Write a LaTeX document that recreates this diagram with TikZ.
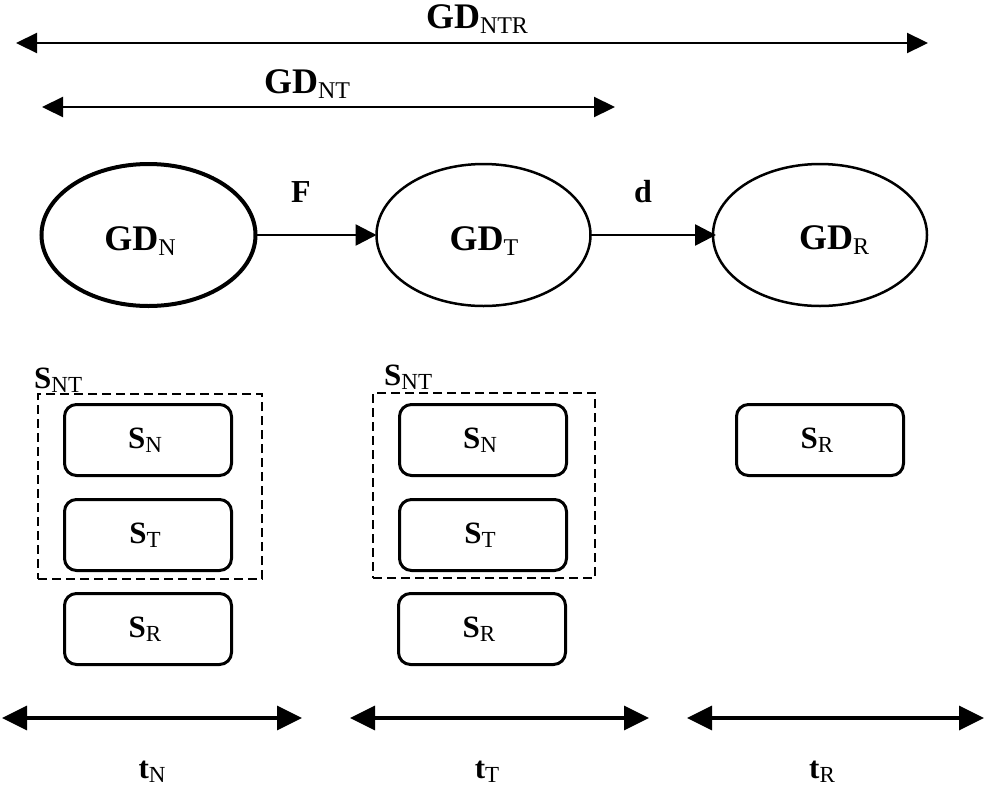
\documentclass[tikz,border=0pt]{standalone}
\usepackage{fontspec}
\setmainfont{Liberation Serif}
\usetikzlibrary{arrows.meta,shapes.geometric}

% bold symbol with a lowered, upright subscript
\newcommand\glab[2]{{\fontsize{36}{40}\selectfont\bfseries #1}{\fontsize{24}{26}\selectfont\raisebox{-5pt}{#2}}}
\newcommand\slab[2]{{\fontsize{31}{34}\selectfont\bfseries #1}{\fontsize{23}{25}\selectfont\raisebox{-4pt}{#2}}}

\tikzset{
  gdell/.style={ellipse, draw, inner sep=0pt, outer sep=0pt,
    minimum width=214pt, minimum height=142pt},
  stbox/.style={draw, line width=3pt, rounded corners=12pt, inner sep=0pt,
    minimum width=167pt, minimum height=71pt},
  grpbox/.style={draw, line width=2.2pt, dash pattern=on 9pt off 5pt,
    inner sep=0pt},
  txt/.style={inner sep=0pt, anchor=base},
  spanarrow/.style={line width=2.2pt, {Triangle[length=21pt,width=20pt]}-{Triangle[length=21pt,width=20pt]}},
  timearrow/.style={line width=3.5pt, {Triangle[length=25pt,width=24pt]}-{Triangle[length=25pt,width=24pt]}},
  flowarrow/.style={line width=2.5pt, -{Triangle[length=21pt,width=21pt]}}
}

\begin{document}
\begin{tikzpicture}[x=1pt, y=-1pt]
\useasboundingbox (0,0) rectangle (985,788);

% spans over the whole process
\coordinate (ntrL) at (16,43);
\coordinate (ntrR) at (928,43);
\draw[spanarrow] (ntrL) -- (ntrR);
\node[txt] (ntrlab) at (477,28) {\glab{GD}{NTR}};

\coordinate (ntL) at (42,107);
\coordinate (ntR) at (615,107);
\draw[spanarrow] (ntL) -- (ntR);
\node[txt] (ntlab) at (307,93) {\glab{GD}{NT}};

% the three graph states
\node[gdell, line width=4pt] (gdN) at (148.5,235) {};
\node[gdell, line width=2.5pt] (gdT) at (483.5,235) {};
\node[gdell, line width=2.5pt] (gdR) at (820,235) {};
\node[txt] (gdNt) at (140,250) {\glab{GD}{N}};
\node[txt] (gdTt) at (484,250) {\glab{GD}{T}};
\node[txt] (gdRt) at (834,249) {\glab{GD}{R}};

\draw[flowarrow] (gdN.east) -- (gdT.west);
\draw[flowarrow] (gdT.east) -- ([xshift=3pt]gdR.west);
\node[txt] (flab) at (301,202) {\fontsize{32}{34}\selectfont\bfseries F};
\node[txt] (dlab) at (643,202) {\fontsize{32}{34}\selectfont\bfseries d};

% first column
\node[grpbox, minimum width=224pt, minimum height=185pt] (snt1) at (150,486.5) {};
\node[txt, anchor=base west] (snt1lab) at (34,388) {\slab{S}{NT}};
\node[stbox] (sN1) at (148,440) {\slab{S}{N}\hspace*{6pt}};
\node[stbox] (sT1) at (148,535) {\slab{S}{T}\hspace*{6pt}};
\node[stbox] (sR1) at (148,629) {\slab{S}{R}\hspace*{6pt}};

% second column
\node[grpbox, minimum width=222pt, minimum height=185pt] (snt2) at (484,485.5) {};
\node[txt, anchor=base west] (snt2lab) at (384,385) {\slab{S}{NT}};
\node[stbox] (sN2) at (483,440) {\slab{S}{N}\hspace*{6pt}};
\node[stbox] (sT2) at (483,535) {\slab{S}{T}\hspace*{6pt}};
\node[stbox] (sR2) at (482,629) {\slab{S}{R}\hspace*{6pt}};

% third column
\node[stbox] (sR3) at (820,440) {\slab{S}{R}\hspace*{6pt}};

% time intervals
\coordinate (tNL) at (2,718);
\coordinate (tNR) at (302,718);
\coordinate (tTL) at (350,718);
\coordinate (tTR) at (649,718);
\coordinate (tRL) at (687,718);
\coordinate (tRR) at (984,718);
\draw[timearrow] (tNL) -- (tNR);
\draw[timearrow] (tTL) -- (tTR);
\draw[timearrow] (tRL) -- (tRR);
\node[txt] (tNlab) at (152,778) {\slab{t}{N}};
\node[txt] (tTlab) at (487,778) {\slab{t}{T}};
\node[txt] (tRlab) at (822,778) {\slab{t}{R}};
\end{tikzpicture}
\end{document}
